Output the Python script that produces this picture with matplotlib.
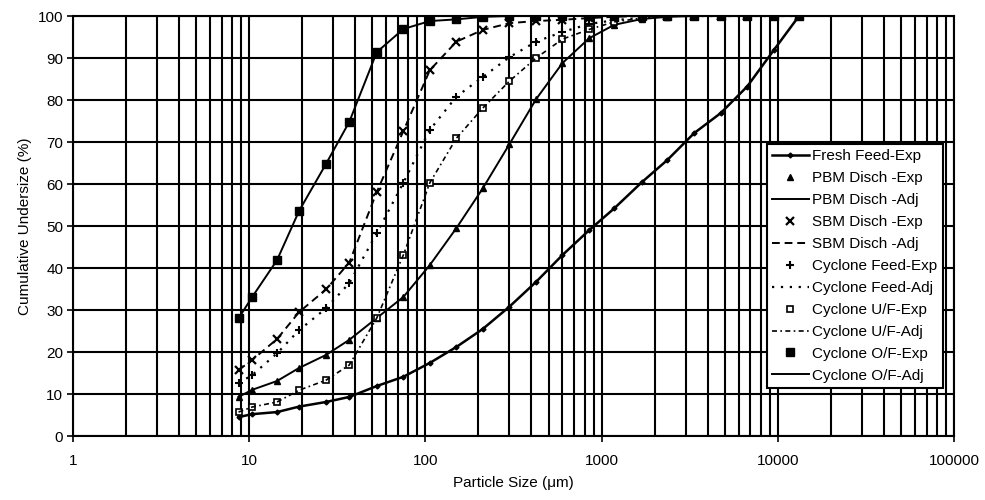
"""
Cumulative undersize curves for the grinding circuit streams
(fresh feed, primary/secondary ball mill discharge, cyclone streams).
"""
import matplotlib.pyplot as plt
from matplotlib.ticker import NullFormatter, LogLocator

plt.rcParams['font.family'] = ['Liberation Sans', 'DejaVu Sans']

# Sieve / cyclosizer sizes (um)
sizes = [8.7, 10.4, 14.4, 19.2, 27.3, 37, 53, 75, 106, 150, 212, 300, 425,
         600, 850, 1180, 1700, 2360, 3350, 4750, 6700, 9500, 13200]

fresh_feed = [4.5, 5.2, 5.7, 7.0, 8.1, 9.3, 11.9, 14.1, 17.4, 21.2, 25.5, 30.8,
              36.7, 43.1, 49.0, 54.2, 60.5, 65.7, 72.1, 76.9, 83.2, 91.9, 100]
pbm_disch = [9.3, 11.0, 13.1, 16.2, 19.3, 22.9, 28.1, 33.1, 40.7, 49.5, 59.0,
             69.5, 80.2, 88.8, 94.7, 97.9, 99.3, 99.8, 100, 100, 100, 100, 100]
sbm_disch = [15.7, 18.1, 23.1, 29.5, 34.9, 41.3, 58.1, 72.6, 87.1, 93.9, 96.7,
             98.3, 98.8, 99.1, 99.5, 99.8, 100, 100, 100, 100, 100, 100, 100]
cyc_feed = [12.6, 14.5, 19.7, 25.2, 30.4, 36.4, 48.3, 60.3, 72.9, 80.8, 85.5,
            90.2, 93.9, 96.2, 98.1, 99.0, 99.6, 100, 100, 100, 100, 100, 100]
cyc_uf = [5.7, 6.9, 8.1, 10.9, 13.3, 16.9, 28.1, 43.1, 60.3, 70.9, 78.1, 84.5,
          90.0, 94.5, 96.8, 98.6, 99.5, 100, 100, 100, 100, 100, 100]
cyc_of = [28.0, 33.1, 41.9, 53.6, 64.8, 74.8, 91.4, 96.9, 98.8, 99.2, 99.8,
          100, 100, 100, 100, 100, 100, 100, 100, 100, 100, 100, 100]

fig = plt.figure(figsize=(9.85, 5.0), dpi=100)
ax = fig.add_axes([0.0741, 0.128, 0.8944, 0.84])

k = dict(color='black')
ax.plot(sizes, fresh_feed, '-', marker='D', ms=2.5, lw=1.8, label='Fresh Feed-Exp', **k)
ax.plot(sizes, pbm_disch, '^', ms=5, ls='none', label='PBM Disch -Exp', **k)
ax.plot(sizes, pbm_disch, '-', lw=1.4, label='PBM Disch -Adj', **k)
ax.plot(sizes, sbm_disch, 'x', ms=6, mew=1.6, ls='none', label='SBM Disch -Exp', **k)
ax.plot(sizes, sbm_disch, '--', lw=1.4, dashes=(4, 2.5), label='SBM Disch -Adj', **k)
ax.plot(sizes, cyc_feed, '+', ms=6, mew=1.5, ls='none', label='Cyclone Feed-Exp', **k)
ax.plot(sizes, cyc_feed, ':', lw=1.6, dashes=(1, 3), label='Cyclone Feed-Adj', **k)
ax.plot(sizes, cyc_uf, 's', ms=5, mfc='white', mew=1.2, ls='none', label='Cyclone U/F-Exp', **k)
ax.plot(sizes, cyc_uf, '-.', lw=1.2, dashes=(3, 2, 1, 2), label='Cyclone U/F-Adj', **k)
ax.plot(sizes, cyc_of, 's', ms=6, ls='none', label='Cyclone O/F-Exp', **k)
ax.plot(sizes, cyc_of, '-', lw=1.4, label='Cyclone O/F-Adj', **k)

ax.set_xscale('log')
ax.set_xlim(1, 100000)
ax.set_ylim(0, 100)
ax.set_xticks([1, 10, 100, 1000, 10000, 100000])
ax.set_xticklabels(['1', '10', '100', '1000', '10000', '100000'])
ax.xaxis.set_minor_locator(LogLocator(base=10, subs=range(2, 10), numticks=20))
ax.xaxis.set_minor_formatter(NullFormatter())
ax.set_yticks(range(0, 101, 10))

ax.grid(True, which='major', color='black', lw=1.5)
ax.grid(True, which='minor', axis='x', color='black', lw=1.5)
ax.set_axisbelow(True)
for s in ax.spines.values():
    s.set_linewidth(1.5)

ax.tick_params(axis='both', which='major', labelsize=11, length=4, width=1.2, direction='out')
ax.tick_params(axis='x', which='major', pad=9)
ax.tick_params(axis='y', which='major', pad=3)
ax.tick_params(axis='x', which='minor', length=0)

ax.set_xlabel('Particle Size (μm)', fontsize=11, labelpad=6)
ax.set_ylabel('Cumulative Undersize (%)', fontsize=11, labelpad=4)

leg = ax.legend(loc='lower right', bbox_to_anchor=(0.9875, 0.114), borderaxespad=0,
                fontsize=11, handlelength=2.4, handletextpad=0.25, labelspacing=0.52,
                fancybox=False, framealpha=1, edgecolor='black', borderpad=0.35)
leg.get_frame().set_linewidth(1.5)

fig.savefig('out.png', dpi=100)
